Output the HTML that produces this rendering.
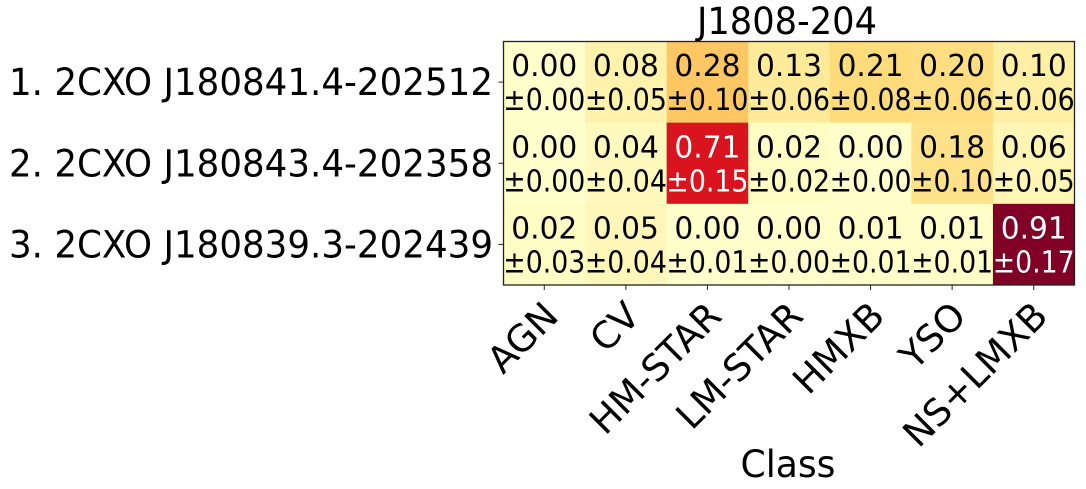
<!DOCTYPE html>
<html><head><meta charset="utf-8"><style>
html,body{margin:0;padding:0;background:#fff;}
svg{display:block;font-family:"DejaVu Sans","Liberation Sans",sans-serif;}
</style></head><body>
<svg id="chart" width="1086" height="489" viewBox="0 0 1086 489" xmlns="http://www.w3.org/2000/svg">
<text x="787" y="34" font-size="37" text-anchor="middle" textLength="180" lengthAdjust="spacingAndGlyphs">J1808-204</text>
<text x="788" y="477" font-size="37" text-anchor="middle" textLength="95" lengthAdjust="spacingAndGlyphs">Class</text>
<g id="cells"></g>
<g id="labels"></g>
<g id="axes"></g>
</svg>
<script>
const classes = ["AGN","CV","HM-STAR","LM-STAR","HMXB","YSO","NS+LMXB"];
const sources = ["1. 2CXO J180841.4-202512","2. 2CXO J180843.4-202358","3. 2CXO J180839.3-202439"];
const probs = [
  [0.00,0.08,0.28,0.13,0.21,0.20,0.10],
  [0.00,0.04,0.71,0.02,0.00,0.18,0.06],
  [0.02,0.05,0.00,0.00,0.01,0.01,0.91]
];
const errs = [
  [0.00,0.05,0.10,0.06,0.08,0.06,0.06],
  [0.00,0.04,0.15,0.02,0.00,0.10,0.05],
  [0.03,0.04,0.01,0.00,0.01,0.01,0.17]
];

const NS="http://www.w3.org/2000/svg";
const L=503.5,T=41.5,R=1074.5,B=285;
const cw=(R-L)/classes.length, ch=(B-T)/sources.length;
const xPos=i=>L+i*cw, yPos=j=>T+j*ch;
const stops=["#ffffcc","#ffeda0","#fed976","#feb24c","#fd8d3c","#fc4e2a","#e31a1c","#bd0026","#800026"];
const vmax=Math.max(...probs.flat());
function hex(h){return [1,3,5].map(k=>parseInt(h.substr(k,2),16));}
function cmap(v){
  let t=Math.max(0,Math.min(1,v/vmax))*(stops.length-1);
  let i=Math.min(Math.floor(t),stops.length-2), f=t-i;
  const a=hex(stops[i]),b=hex(stops[i+1]);
  return "rgb("+a.map((x,k)=>Math.round(x+(b[k]-x)*f)).join(",")+")";
}
function mk(tag,attrs,parent){const e=document.createElementNS(NS,tag);for(const k in attrs)e.setAttribute(k,attrs[k]);parent.appendChild(e);return e;}
const cells=document.getElementById("cells"), labels=document.getElementById("labels"), axes=document.getElementById("axes");
probs.forEach((row,j)=>row.forEach((v,i)=>{
  const r=mk("rect",{x:xPos(i),y:yPos(j),width:cw+0.5,height:ch+0.5,fill:cmap(v)},cells);
  
  
  const col=(v/vmax)>0.6?"#fff":"#000";
  const cx=xPos(i)+cw/2, cy=yPos(j)+ch/2;
  const t1=mk("text",{x:cx,y:cy-6,"font-size":30,"text-anchor":"middle",fill:col,textLength:66,lengthAdjust:"spacingAndGlyphs"},labels);
  t1.textContent=v.toFixed(2);
  
  
  const t2=mk("text",{x:cx,y:cy+28,"font-size":30,"text-anchor":"middle",fill:col,textLength:82,lengthAdjust:"spacingAndGlyphs"},labels);
  t2.textContent="\u00b1"+errs[j][i].toFixed(2);
  
  
}));
const frame=mk("rect",{x:L,y:T,width:R-L,height:B-T,fill:"none",stroke:"#222","stroke-width":1.3},axes);


sources.forEach((s,j)=>{
  const cy=yPos(j)+ch/2;
  mk("line",{x1:L-5,x2:L,y1:cy,y2:cy,stroke:"#222","stroke-width":1},axes);
  const t=mk("text",{x:493,y:cy+13,"font-size":37,"text-anchor":"end",textLength:484,lengthAdjust:"spacingAndGlyphs"},axes);
  t.textContent=s;
  
  
});
classes.forEach((c,i)=>{
  const cx=xPos(i)+cw/2;
  mk("line",{x1:cx,x2:cx,y1:B,y2:B+5,stroke:"#222","stroke-width":1},axes);
  const t=mk("text",{x:cx+16,y:318,"font-size":37,"text-anchor":"end",transform:`rotate(-45 ${cx+16} 318)`},axes);
  t.textContent=c;
  
  
});
</script>
</body></html>
